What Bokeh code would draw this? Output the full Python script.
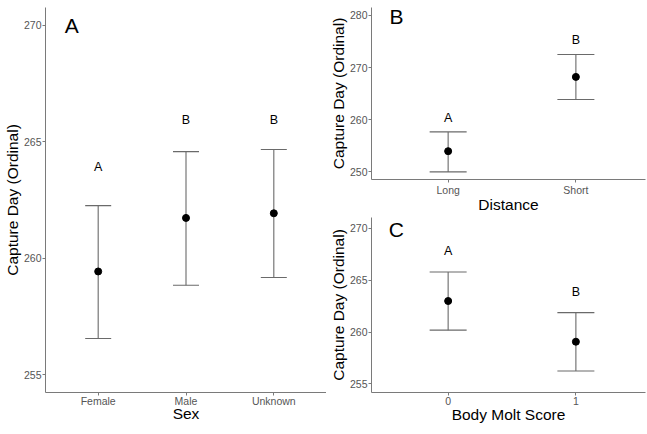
from bokeh.plotting import figure
from bokeh.layouts import row, column
from bokeh.models import Range1d, FixedTicker, ColumnDataSource, Whisker
from bokeh.embed import file_html
from bokeh.resources import INLINE
from bokeh.core.properties import value

# Panel A: Sex
sex_cats = ["Female", "Male", "Unknown"]
sex_mean = [259.43, 261.73, 261.93]
sex_lower = [256.55, 258.84, 259.17]
sex_upper = [262.26, 264.58, 264.67]
sex_letters = ["A", "B", "B"]
sex_letter_y = [263.9, 265.95, 265.95]

# Panel B: Distance
dist_cats = ["Long", "Short"]
dist_mean = [253.97, 268.2]
dist_lower = [250.0, 263.87]
dist_upper = [257.66, 272.5]
dist_letters = ["A", "B"]
dist_letter_y = [260.3, 275.3]

# Panel C: Body Molt Score
molt_cats = ["0", "1"]
molt_mean = [263.0, 259.07]
molt_lower = [260.19, 256.25]
molt_upper = [265.8, 261.88]
molt_letters = ["A", "B"]
molt_letter_y = [267.8, 263.9]

FONT = "Liberation Sans"
AXIS_COL = "#7a7a7a"
TICKLBL_COL = "#555555"
BAR_COL = "#6a6a6a"


def make_panel(cats, mean, lower, upper, letters, letter_y, xr, yr, yticks,
               xtitle, tag, width, height, borders, tag_xy, cap, lstand, xstand):
    ml, mr, mt, mb = borders
    p = figure(width=width, height=height, output_backend="svg",
               toolbar_location=None, x_range=Range1d(*xr), y_range=Range1d(*yr),
               min_border_left=ml, min_border_right=mr, min_border_top=mt,
               min_border_bottom=mb)
    p.grid.visible = False
    p.outline_line_color = None
    xs = list(range(1, len(cats) + 1))
    src = ColumnDataSource(dict(x=xs, mean=mean, lower=lower, upper=upper,
                                letters=letters, ly=letter_y))
    w = Whisker(base="x", lower="lower", upper="upper", source=src,
                line_color=BAR_COL, line_width=1.1)
    for h in (w.upper_head, w.lower_head):
        h.size = cap
        h.line_color = BAR_COL
        h.line_width = 1.1
    p.add_layout(w)
    p.scatter("x", "mean", source=src, size=7, color="black")
    p.text("x", "ly", text="letters", source=src, text_align="center",
           text_baseline="middle", text_font=value(FONT),
           text_font_size="12.5px", text_color="black")
    p.text(x=[tag_xy[0]], y=[tag_xy[1]], text=[tag], text_align="center",
           text_baseline="middle", text_font=value(FONT),
           text_font_size="21px", text_color="black")

    p.xaxis.ticker = FixedTicker(ticks=xs)
    p.xaxis.major_label_overrides = {x: c for x, c in zip(xs, cats)}
    p.yaxis.ticker = FixedTicker(ticks=yticks)
    for ax in (p.xaxis[0], p.yaxis[0]):
        ax.axis_line_color = AXIS_COL
        ax.major_tick_line_color = AXIS_COL
        ax.major_tick_in = 0
        ax.major_tick_out = 3
        ax.minor_tick_line_color = None
        ax.major_label_text_font = FONT
        ax.major_label_text_font_size = "10.5px"
        ax.major_label_text_color = TICKLBL_COL
        ax.axis_label_text_font = FONT
        ax.axis_label_text_font_size = "15.5px"
        ax.axis_label_text_font_style = "normal"
        ax.axis_label_text_color = "black"
    p.xaxis.axis_label = xtitle
    p.yaxis.axis_label = "Capture Day (Ordinal)"
    p.xaxis.major_label_standoff = lstand
    p.xaxis.axis_label_standoff = xstand
    p.yaxis.major_label_standoff = 1
    p.yaxis.axis_label_standoff = 0
    return p


pA = make_panel(sex_cats, sex_mean, sex_lower, sex_upper, sex_letters, sex_letter_y,
                (0.4, 3.6), (254.23, 270.77), [255, 260, 265, 270], "Sex", "A",
                326, 434, (45, 0, 7, 42), (0.7, 270.0), 26, -1, -5)

pB = make_panel(dist_cats, dist_mean, dist_lower, dist_upper, dist_letters, dist_letter_y,
                (0.4, 2.545), (248.54, 281.5), [250, 260, 270, 280], "Distance", "B",
                321, 215, (45, 2, 7, 36), (0.595, 279.8), 37, 1, -3)

pC = make_panel(molt_cats, molt_mean, molt_lower, molt_upper, molt_letters, molt_letter_y,
                (0.4, 2.545), (254.17, 271.06), [255, 260, 265, 270], "Body Molt Score", "C",
                321, 219, (45, 2, 2, 42), (0.595, 269.95), 37, 1, -2)

layout = row(pA, column(pB, pC))
open("out.html", "w").write(file_html(layout, INLINE))
